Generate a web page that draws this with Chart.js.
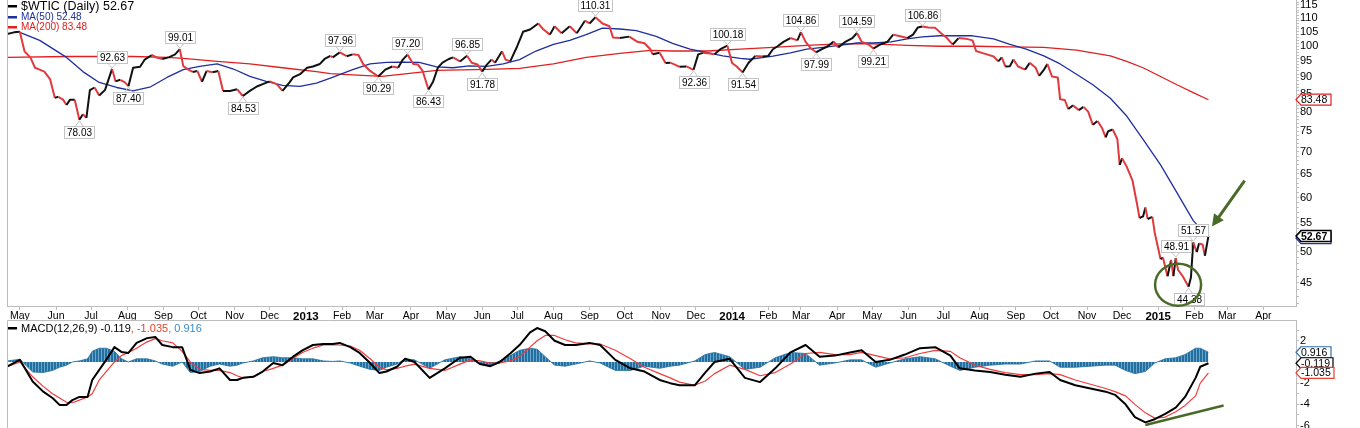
<!DOCTYPE html>
<html>
<head>
<meta charset="utf-8">
<script src="https://cdn.jsdelivr.net/npm/chart.js@4.4.1/dist/chart.umd.min.js"></script>
<style>
  body { margin: 0; background: #fff; }
  #wrap { position: relative; width: 1360px; height: 428px; overflow: hidden; }
  #price { position: absolute; left: 0; top: 0; }
  #macd { position: absolute; left: 0; top: 320px; }
</style>
</head>
<body>
<div id="wrap">
  <canvas id="price" width="1360" height="321"></canvas>
  <canvas id="macd" width="1360" height="108"></canvas>
</div>
<script>
// $WTIC daily close (one row per month)
const priceDates = [
  '2012-04-20','2012-04-26',
  '2012-05-01','2012-05-05','2012-05-10','2012-05-14','2012-05-18','2012-05-22','2012-05-27','2012-05-31',
  '2012-06-03','2012-06-07','2012-06-10','2012-06-13','2012-06-17','2012-06-21','2012-06-24','2012-06-27','2012-06-30',
  '2012-07-04','2012-07-08','2012-07-13','2012-07-19','2012-07-22','2012-07-26','2012-07-30',
  '2012-08-02','2012-08-06','2012-08-12','2012-08-16','2012-08-22','2012-08-26','2012-08-31',
  '2012-09-06','2012-09-11','2012-09-15','2012-09-18','2012-09-22','2012-09-26','2012-09-30',
  '2012-10-04','2012-10-08','2012-10-13','2012-10-18','2012-10-22','2012-10-28',
  '2012-11-03','2012-11-08','2012-11-14','2012-11-20','2012-11-25',
  '2012-12-01','2012-12-07','2012-12-12','2012-12-18','2012-12-21','2012-12-27',
  '2013-01-02','2013-01-07','2013-01-13','2013-01-17','2013-01-22','2013-01-24','2013-01-30',
  '2013-02-05','2013-02-10','2013-02-15','2013-02-19','2013-02-25',
  '2013-03-01','2013-03-04','2013-03-10','2013-03-16','2013-03-21','2013-03-25','2013-03-29',
  '2013-04-03','2013-04-07','2013-04-11','2013-04-16','2013-04-20','2013-04-24','2013-04-28',
  '2013-05-03','2013-05-07','2013-05-13','2013-05-19','2013-05-23','2013-05-28',
  '2013-06-01','2013-06-05','2013-06-09','2013-06-12','2013-06-18','2013-06-21','2013-06-25',
  '2013-07-01','2013-07-06','2013-07-12','2013-07-19','2013-07-23','2013-07-29',
  '2013-08-02','2013-08-08','2013-08-15','2013-08-21','2013-08-28',
  '2013-09-01','2013-09-06','2013-09-12','2013-09-18','2013-09-21','2013-09-27',
  '2013-10-05','2013-10-12','2013-10-18','2013-10-23','2013-10-25','2013-10-31',
  '2013-11-05','2013-11-09','2013-11-13','2013-11-17','2013-11-23','2013-11-29',
  '2013-12-03','2013-12-07','2013-12-13','2013-12-17','2013-12-22','2013-12-28',
  '2014-01-01','2014-01-05','2014-01-10','2014-01-15','2014-01-21','2014-01-27',
  '2014-02-01','2014-02-05','2014-02-09','2014-02-14','2014-02-20','2014-02-26',
  '2014-03-01','2014-03-05','2014-03-09','2014-03-14','2014-03-19','2014-03-24','2014-03-29',
  '2014-04-02','2014-04-08','2014-04-14','2014-04-18','2014-04-22','2014-04-28',
  '2014-05-02','2014-05-08','2014-05-14','2014-05-19','2014-05-25','2014-05-31',
  '2014-06-05','2014-06-09','2014-06-13','2014-06-18','2014-06-24','2014-06-29',
  '2014-07-04','2014-07-09','2014-07-14','2014-07-20','2014-07-26','2014-07-29',
  '2014-08-03','2014-08-08','2014-08-13','2014-08-17','2014-08-20','2014-08-23','2014-08-27','2014-08-30',
  '2014-09-03','2014-09-09','2014-09-13','2014-09-18','2014-09-21','2014-09-25','2014-09-28',
  '2014-10-02','2014-10-07','2014-10-09','2014-10-13','2014-10-16','2014-10-20','2014-10-25','2014-10-29',
  '2014-11-02','2014-11-06','2014-11-10','2014-11-14','2014-11-17','2014-11-19','2014-11-23','2014-11-27','2014-11-29',
  '2014-12-01','2014-12-05','2014-12-10','2014-12-14','2014-12-16','2014-12-19','2014-12-21','2014-12-23','2014-12-27','2014-12-29',
  '2015-01-03','2015-01-05','2015-01-09','2015-01-12','2015-01-14','2015-01-16','2015-01-18','2015-01-22','2015-01-27','2015-01-29','2015-01-31',
  '2015-02-03','2015-02-05','2015-02-08','2015-02-10','2015-02-13'
];
const priceVals = [
  104.2, 104.8,
  105.0, 98.3, 96.3, 93.0, 92.4, 91.8, 89.4, 84.0,
  84.3, 83.5, 82.0, 83.5, 83.5, 78.03, 79.5, 78.5, 86.2,
  87.0, 84.7, 86.3, 92.63, 88.8, 89.3, 88.5,
  87.4, 93.0, 93.3, 95.6, 97.1, 96.3, 95.8,
  96.4, 97.3, 99.01, 93.5, 92.5, 91.7, 92.0,
  88.7, 92.0, 91.6, 92.0, 86.0, 86.0,
  86.5, 84.53, 86.0, 87.3, 88.0,
  88.8, 88.0, 86.0, 88.5, 90.0, 91.0,
  93.0, 93.4, 94.2, 95.8, 96.8, 96.3, 97.96,
  96.7, 97.3, 97.1, 94.2, 92.0,
  91.0, 90.29, 92.4, 93.4, 93.0, 95.6, 97.2,
  94.2, 94.0, 92.0, 86.43, 88.8, 93.0, 94.6,
  95.7, 96.3, 95.0, 96.85, 94.6, 94.0,
  91.78, 94.0, 95.6, 94.6, 98.3, 95.6, 95.0,
  100.0, 105.0, 105.8, 108.0, 106.0, 104.0,
  107.0, 104.5, 107.0, 104.5, 109.0,
  108.0, 110.31, 108.0, 107.0, 103.0, 102.8,
  103.3, 101.5, 101.0, 99.0, 97.3, 97.8,
  94.5, 94.6, 94.0, 93.3, 93.4, 92.36,
  97.3, 97.8, 97.6, 97.3, 99.0, 100.18,
  94.5, 93.4, 91.54, 94.5, 96.8, 96.6,
  96.8, 99.0, 100.0, 101.5, 102.8, 102.0,
  104.86, 101.5, 99.5, 97.99, 99.0, 100.0, 101.6,
  99.6, 101.5, 102.8, 104.59, 101.5, 100.6,
  99.21, 100.6, 101.5, 104.0, 103.4, 102.8,
  104.0, 106.5, 106.86, 106.5, 106.4, 104.5,
  102.8, 100.6, 102.8, 102.6, 102.0, 98.4,
  97.8, 97.2, 96.6, 95.0, 96.3, 93.4, 93.5, 95.6,
  93.4, 92.4, 94.6, 93.0, 90.5, 92.3, 94.2,
  90.3, 90.0, 83.6, 83.4, 80.9, 81.9, 80.6, 81.5,
  80.2, 76.7, 77.7, 75.8, 73.5, 75.0, 75.5, 73.1, 67.0,
  68.5, 66.6, 63.5, 58.5, 56.0, 56.3, 58.0, 55.8, 56.2, 53.3,
  48.7, 49.0, 46.0, 48.6, 46.0, 48.91, 47.0, 46.0, 44.38, 45.8, 51.57,
  49.9, 51.4, 51.2, 49.3, 52.67
];

const ma50Dates = ['2012-05-01','2012-05-18','2012-06-10','2012-06-24','2012-07-08','2012-07-23','2012-08-06','2012-08-21','2012-09-04','2012-09-18',
  '2012-10-02','2012-10-17','2012-10-31','2012-11-14','2012-11-28','2012-12-12','2012-12-27','2013-01-10','2013-01-22','2013-02-10',
  '2013-02-25','2013-03-11','2013-03-25','2013-04-08','2013-04-23','2013-05-07','2013-05-21','2013-06-05','2013-06-19','2013-07-03',
  '2013-07-17','2013-08-01','2013-08-15','2013-08-29','2013-09-12','2013-09-27','2013-10-11','2013-10-28','2013-11-11','2013-11-26',
  '2013-12-11','2013-12-24','2014-01-08','2014-01-16','2014-02-05','2014-02-20','2014-03-06','2014-03-20','2014-04-03','2014-04-18',
  '2014-05-02','2014-05-17','2014-05-31','2014-06-13','2014-06-28','2014-07-26','2014-08-13','2014-08-27','2014-09-10','2014-09-25',
  '2014-10-09','2014-10-23','2014-11-06','2014-11-21','2014-12-05','2014-12-19','2015-01-03','2015-01-17','2015-01-31','2015-02-13'];
const ma50 = [104.8, 102.0, 96.3, 91.8, 88.5, 87.0, 86.0, 87.2, 90.0, 92.4,
  93.4, 94.2, 92.6, 90.3, 88.8, 87.6, 87.3, 88.3, 89.8, 92.4,
  94.2, 94.7, 94.8, 94.7, 93.3, 93.0, 93.6, 93.4, 94.2, 95.6,
  98.4, 100.6, 102.0, 104.0, 106.3, 106.0, 105.4, 103.4, 101.0, 99.0,
  97.9, 96.8, 96.0, 95.7, 96.7, 97.8, 99.0, 99.6, 100.3, 101.1,
  101.1, 101.5, 102.5, 103.2, 103.6, 103.6, 102.5, 100.6, 99.0, 96.8,
  94.2, 91.0, 87.8, 83.9, 79.0, 73.0, 67.0, 61.0, 55.5, 52.48];

const ma200Dates = ['2012-04-20','2012-06-10','2012-08-06','2012-09-04','2012-09-18','2012-10-17','2012-11-14','2012-12-12','2013-01-10','2013-01-22',
  '2013-02-10','2013-03-07','2013-03-25','2013-04-23','2013-06-05','2013-07-03','2013-08-01','2013-08-29','2013-09-27','2013-10-23',
  '2013-11-11','2013-12-11','2014-01-08','2014-02-05','2014-03-06','2014-04-03','2014-05-02','2014-05-31','2014-06-28','2014-07-29',
  '2014-08-27','2014-09-25','2014-10-23','2014-11-21','2014-12-05','2014-12-19','2015-01-03','2015-01-17','2015-01-31','2015-02-13'];
const ma200 = [96.3, 96.6, 96.6, 96.3, 96.0, 95.0, 94.2, 93.0, 91.8, 91.2,
  90.8, 90.3, 91.0, 92.2, 92.5, 92.8, 94.2, 96.3, 97.6, 98.6,
  98.4, 98.4, 99.0, 99.6, 100.3, 100.8, 100.8, 100.3, 100.0, 100.0,
  99.8, 99.6, 98.7, 96.8, 95.0, 93.0, 90.3, 87.8, 85.5, 83.48];

// MACD(12,26,9) panel
const macdDates = [
  '2012-04-20','2012-05-01','2012-05-12','2012-05-21','2012-05-29','2012-06-04','2012-06-10','2012-06-15','2012-06-21','2012-06-28',
  '2012-07-02','2012-07-08','2012-07-14','2012-07-21','2012-07-27','2012-08-02','2012-08-09','2012-08-18','2012-08-25','2012-08-31',
  '2012-09-09','2012-09-17','2012-09-24','2012-10-02','2012-10-11','2012-10-19','2012-10-28','2012-11-03','2012-11-08','2012-11-17',
  '2012-11-25','2012-12-04','2012-12-12','2012-12-21','2012-12-29','2013-01-07','2013-01-16','2013-01-24','2013-01-30','2013-02-08',
  '2013-02-16','2013-02-25','2013-03-05','2013-03-11','2013-03-20','2013-03-27','2013-04-04','2013-04-17','2013-04-30','2013-05-13',
  '2013-05-22','2013-05-30','2013-06-08','2013-06-16','2013-06-25','2013-07-03','2013-07-12','2013-07-18','2013-07-25','2013-08-02',
  '2013-08-11','2013-08-20','2013-09-01','2013-09-10','2013-09-23','2013-10-06','2013-10-18','2013-10-31','2013-11-09','2013-11-17',
  '2013-11-30','2013-12-09','2013-12-17','2013-12-30','2014-01-12','2014-01-25','2014-02-07','2014-02-20','2014-03-05','2014-03-17',
  '2014-03-30','2014-04-12','2014-04-22','2014-05-04','2014-05-16','2014-05-29','2014-06-11','2014-06-24','2014-07-07','2014-07-15',
  '2014-07-28','2014-08-10','2014-08-23','2014-09-05','2014-09-18','2014-09-30','2014-10-09','2014-10-22','2014-11-04','2014-11-17',
  '2014-11-25','2014-12-04','2014-12-12','2014-12-21','2014-12-29','2015-01-07','2015-01-16','2015-01-24','2015-02-02','2015-02-06','2015-02-13'
];
const macdLine = [
  -0.45, 0.2, -1.85, -2.8, -3.4, -4.05, -4.05, -3.6, -3.3, -3.3,
  -1.7, -0.75, 0.2, 1.4, 0.95, 0.85, 1.8, 2.25, 2.36, 1.6,
  1.4, 1.4, -0.75, -1.05, -0.9, -0.6, -1.7, -1.7, -1.5, -1.4,
  -0.9, -0.1, -0.3, 0.5, 1.1, 1.6, 1.7, 1.7, 1.8, 1.4,
  0.85, -0.1, -1.05, -0.9, -0.45, 0.3, 0.0, -1.5, -0.6, 0.4,
  0.5, -0.2, -0.4, 0.0, 0.8, 1.6, 2.8, 3.2, 2.9, 2.0,
  1.6, 1.6, 1.8, 1.6, 0.2, -0.6, -0.9, -1.7, -2.0, -2.2,
  -2.2, -1.0, 0.0, 0.3, -1.5, -1.9, -0.6, 0.9, 1.6, 0.5,
  0.6, 0.9, 1.1, 0.0, 0.2, 0.7, 1.3, 1.4, 0.6, -0.6,
  -0.8, -0.95, -1.2, -1.4, -1.1, -0.95, -1.7, -2.2, -2.5, -2.8,
  -3.1, -4.0, -5.2, -5.7, -5.4, -4.9, -4.3, -3.3, -1.5, -0.45, -0.119
];
const signalLine = [
  -0.45, 0.0, -1.4, -2.3, -3.0, -3.4, -3.8, -3.85, -3.6, -3.3,
  -3.0, -1.7, -0.9, 0.0, 0.6, 0.9, 1.3, 1.9, 2.2, 2.0,
  1.8, 1.0, 0.0, -0.7, -0.8, -0.8, -1.0, -1.3, -1.5, -1.4,
  -0.9, -0.6, -0.3, 0.35, 0.9, 1.3, 1.6, 1.6, 1.6, 1.5,
  1.1, 0.3, -0.5, -0.75, -0.6, -0.4, -0.2, -0.6, -0.8, -0.2,
  0.2, 0.1, -0.1, -0.1, 0.1, 0.5, 1.4, 2.0, 2.5, 2.5,
  2.1, 1.8, 1.7, 1.7, 1.1, 0.3, -0.5, -1.1, -1.5, -1.9,
  -2.2, -1.8, -1.1, -0.3, -0.7, -1.3, -1.0, -0.2, 0.8, 0.9,
  0.7, 0.7, 0.9, 0.6, 0.3, 0.4, 0.8, 1.1, 1.0, 0.4,
  -0.3, -0.7, -1.0, -1.2, -1.2, -1.1, -1.2, -1.7, -2.1, -2.5,
  -2.8, -3.2, -4.0, -4.8, -5.3, -5.2, -4.7, -4.1, -3.2, -2.0, -1.035
];
const histVals = [
  0.1, 0.25, -0.95, -1.0, -0.8, -0.5, -0.3, 0.0, 0.1, 0.3,
  1.0, 1.3, 1.3, 1.0, 0.3, 0.0, 0.3, 0.3, 0.1, -0.2,
  -0.4, 0.0, -1.0, -0.9, -0.4, -0.2, -0.4, -0.3, -0.1, 0.1,
  0.4, 0.5, 0.4, 0.4, 0.3, 0.3, 0.1, 0.05, 0.1, -0.1,
  -0.4, -0.7, -0.8, -0.5, -0.2, 0.3, 0.2, -0.6, 0.2, 0.5,
  0.3, -0.2, -0.3, 0.1, 0.6, 1.1, 1.3, 1.2, 0.5, -0.3,
  -0.4, -0.2, 0.1, -0.1, -0.8, -0.8, -0.4, -0.6, -0.4, -0.3,
  0.1, 0.7, 0.9, 0.5, -0.7, -0.5, 0.4, 0.9, 0.8, -0.3,
  -0.1, 0.2, 0.2, -0.5, -0.1, 0.3, 0.5, 0.3, -0.4, -0.8,
  -0.5, -0.3, -0.2, -0.2, 0.1, 0.1, -0.5, -0.5, -0.4, -0.3,
  -0.3, -0.8, -1.1, -0.9, -0.1, 0.3, 0.4, 0.7, 1.3, 1.3, 0.916
];

// swing labels on the price line
const markDates = ['2012-06-21','2012-07-19','2012-08-02','2012-09-15','2012-11-08','2013-01-30','2013-03-04','2013-03-29',
  '2013-04-16','2013-05-19','2013-06-01','2013-09-06','2013-11-29','2013-12-28','2014-01-10','2014-03-01','2014-03-14',
  '2014-04-18','2014-05-02','2014-06-13','2015-01-16','2015-01-27','2015-01-31'];
const markVals = [78.03, 92.63, 87.40, 99.01, 84.53, 97.96, 90.29, 97.20, 86.43, 96.85, 91.78, 110.31, 92.36, 100.18,
  91.54, 104.86, 97.99, 104.59, 99.21, 106.86, 48.91, 44.38, 51.57];
const markSide = ['low','high','low','high','low','high','low','high','low','high','low','high','low','high',
  'low','high','low','high','low','high','high','low','high'];

// hand drawn notes (in data units)
const circleAt = ['2015-01-18', 44.7];
const arrowFrom = ['2015-03-16', 63.5];
const arrowTo = ['2015-02-16', 54.4];
const divFrom = ['2014-12-21', -5.94];
const divTo = ['2015-02-26', -4.1];

const monthNames = ['Jan','Feb','Mar','Apr','May','Jun','Jul','Aug','Sep','Oct','Nov','Dec'];
const xMin = Date.UTC(2012, 3, 20);
const xMax = Date.UTC(2015, 3, 29);

const FONT = 'Liberation Sans';
const AXIS = '#bdbdbd';
const GREEN = '#4a6b28';
const NAVY = '#1f2f9f';
const RED = '#e02020';

Chart.defaults.font.family = FONT;

const toMs = d => Date.parse(d + 'T00:00:00Z');
const pts = (dates, vals) => dates.map((d, i) => ({ x: toMs(d), y: vals[i] }));
const last = a => a[a.length - 1];

function monthTicks() {
  const t = [];
  for (let k = 0; k < 36; k++) {
    t.push({ value: Date.UTC(2012 + Math.floor((4 + k) / 12), (4 + k) % 12, 1) });
  }
  return t;
}

function tag(ctx, x0, py, txt, stroke, lw, bold) {
  ctx.font = (bold ? 'bold ' : '') + '10.5px "' + FONT + '"';
  const w = Math.ceil(ctx.measureText(txt).width) + 8, h = 11;
  ctx.beginPath();
  ctx.moveTo(x0, py);
  ctx.lineTo(x0 + 5, py - h / 2);
  ctx.lineTo(x0 + w, py - h / 2);
  ctx.lineTo(x0 + w, py + h / 2);
  ctx.lineTo(x0 + 5, py + h / 2);
  ctx.closePath();
  ctx.fillStyle = '#fff';
  ctx.fill();
  ctx.lineWidth = lw;
  ctx.strokeStyle = stroke;
  ctx.stroke();
  ctx.fillStyle = '#000';
  ctx.textAlign = 'left';
  ctx.textBaseline = 'middle';
  ctx.fillText(txt, x0 + 5, py + 0.5);
}

function legendRow(ctx, yMid, color, text, size) {
  ctx.fillStyle = color;
  ctx.fillRect(8, Math.round(yMid) - 1, 9, 2.5);
  ctx.font = size + 'px "' + FONT + '"';
  ctx.textAlign = 'left';
  ctx.textBaseline = 'middle';
  ctx.fillText(text, 21, yMid + 0.5);
}

const priceOverlay = {
  id: 'priceOverlay',
  afterDraw(chart) {
    const { ctx, chartArea: a } = chart;
    const x = chart.scales.x, y = chart.scales.y;
    ctx.save();

    ctx.strokeStyle = AXIS;
    ctx.lineWidth = 1;
    ctx.beginPath();
    ctx.moveTo(a.left + 0.5, a.top);
    ctx.lineTo(a.left + 0.5, a.bottom);
    ctx.stroke();

    legendRow(ctx, 6, '#000', '$WTIC (Daily) ' + last(priceVals).toFixed(2), 12.5);
    legendRow(ctx, 16.5, NAVY, 'MA(50) ' + last(ma50).toFixed(2), 10);
    legendRow(ctx, 27, RED, 'MA(200) ' + last(ma200).toFixed(2), 10);

    // swing labels
    ctx.font = '10px "' + FONT + '"';
    markDates.forEach((d, i) => {
      const px = x.getPixelForValue(toMs(d));
      const py = y.getPixelForValue(markVals[i]);
      const txt = markVals[i].toFixed(2);
      const w = Math.ceil(ctx.measureText(txt).width) + 4, h = 12;
      const high = markSide[i] === 'high';
      const by = Math.round(high ? py - 6 - h : py + 6) + 0.5;
      const bx = Math.round(px - w / 2) + 0.5;
      const edge = high ? by + h : by;
      const tip = high ? py - 1 : py + 1;
      ctx.strokeStyle = '#c4c4c4';
      ctx.lineWidth = 1;
      ctx.beginPath();
      ctx.moveTo(px - 4, edge);
      ctx.lineTo(px, tip);
      ctx.lineTo(px + 4, edge);
      ctx.stroke();
      ctx.fillStyle = '#fff';
      ctx.fillRect(bx, by, w, h);
      ctx.strokeRect(bx, by, w, h);
      ctx.fillStyle = '#000';
      ctx.textAlign = 'center';
      ctx.textBaseline = 'middle';
      ctx.fillText(txt, bx + w / 2, by + h / 2 + 0.5);
    });

    // circle round the low
    ctx.strokeStyle = GREEN;
    ctx.lineWidth = 2.5;
    ctx.beginPath();
    ctx.ellipse(x.getPixelForValue(toMs(circleAt[0])), y.getPixelForValue(circleAt[1]), 23, 21, 0, 0, Math.PI * 2);
    ctx.stroke();

    // arrow
    const x1 = x.getPixelForValue(toMs(arrowFrom[0])), y1 = y.getPixelForValue(arrowFrom[1]);
    const x2 = x.getPixelForValue(toMs(arrowTo[0])), y2 = y.getPixelForValue(arrowTo[1]);
    const ang = Math.atan2(y2 - y1, x2 - x1);
    ctx.lineWidth = 3;
    ctx.beginPath();
    ctx.moveTo(x1, y1);
    ctx.lineTo(x2 - 8 * Math.cos(ang), y2 - 8 * Math.sin(ang));
    ctx.stroke();
    ctx.fillStyle = GREEN;
    ctx.beginPath();
    ctx.moveTo(x2, y2);
    ctx.lineTo(x2 - 12 * Math.cos(ang) + 6 * Math.sin(ang), y2 - 12 * Math.sin(ang) - 6 * Math.cos(ang));
    ctx.lineTo(x2 - 12 * Math.cos(ang) - 6 * Math.sin(ang), y2 - 12 * Math.sin(ang) + 6 * Math.cos(ang));
    ctx.closePath();
    ctx.fill();

    // last values on the axis
    tag(ctx, a.right, y.getPixelForValue(last(ma200)), last(ma200).toFixed(2), RED, 1.2, false);
    tag(ctx, a.right, y.getPixelForValue(last(ma50)) + 1, last(ma50).toFixed(2), NAVY, 1.2, false);
    tag(ctx, a.right, y.getPixelForValue(last(priceVals)), last(priceVals).toFixed(2), '#000', 1.5, true);

    ctx.restore();
  }
};

const macdOverlay = {
  id: 'macdOverlay',
  afterDraw(chart) {
    const { ctx, chartArea: a } = chart;
    const x = chart.scales.x, y = chart.scales.y;
    ctx.save();

    ctx.strokeStyle = AXIS;
    ctx.lineWidth = 1;
    ctx.beginPath();
    ctx.moveTo(a.left + 0.5, a.bottom);
    ctx.lineTo(a.left + 0.5, 0.5);
    ctx.lineTo(a.right, 0.5);
    ctx.stroke();

    // legend
    ctx.fillStyle = '#000';
    ctx.fillRect(8, 7, 9, 2.5);
    ctx.font = '11px "' + FONT + '"';
    ctx.textAlign = 'left';
    ctx.textBaseline = 'middle';
    const parts = [
      ['MACD(12,26,9) ' + last(macdLine).toFixed(3), '#000'],
      [', ' + last(signalLine).toFixed(3), '#e8402a'],
      [', ' + last(histVals).toFixed(3), '#3a8cc4']
    ];
    let tx = 21;
    parts.forEach(p => {
      ctx.fillStyle = p[1];
      ctx.fillText(p[0], tx, 8.5);
      tx += ctx.measureText(p[0]).width;
    });

    // divergence line
    ctx.strokeStyle = GREEN;
    ctx.lineWidth = 2.5;
    ctx.beginPath();
    ctx.moveTo(x.getPixelForValue(toMs(divFrom[0])), y.getPixelForValue(divFrom[1]));
    ctx.lineTo(x.getPixelForValue(toMs(divTo[0])), y.getPixelForValue(divTo[1]));
    ctx.stroke();

    tag(ctx, a.right, y.getPixelForValue(last(histVals)), last(histVals).toFixed(3), '#2f6fb0', 1.2, false);
    tag(ctx, a.right, y.getPixelForValue(last(macdLine)), last(macdLine).toFixed(3), '#000', 1.2, false);
    tag(ctx, a.right, y.getPixelForValue(last(signalLine)), last(signalLine).toFixed(3), '#e84030', 1.2, false);

    ctx.restore();
  }
};

const common = {
  responsive: false,
  animation: false,
  events: [],
  plugins: { legend: { display: false }, tooltip: { enabled: false } },
  elements: { point: { radius: 0 }, line: { tension: 0, borderJoinStyle: 'round' } }
};

function isJan(c) {
  return !!(c && c.tick && new Date(c.tick.value).getUTCMonth() === 0);
}

new Chart(document.getElementById('price'), {
  type: 'line',
  data: {
    datasets: [
      {
        data: pts(priceDates, priceVals),
        borderWidth: 2,
        borderColor: '#111',
        segment: { borderColor: c => c.p1.parsed.y >= c.p0.parsed.y ? '#111' : '#e03a3e' }
      },
      { data: pts(ma50Dates, ma50), borderColor: NAVY, borderWidth: 1.3 },
      { data: pts(ma200Dates, ma200), borderColor: RED, borderWidth: 1.3 }
    ]
  },
  options: {
    ...common,
    layout: { padding: { left: 7, right: 0, top: 0, bottom: 0 } },
    scales: {
      x: {
        type: 'linear', min: xMin, max: xMax,
        afterBuildTicks: s => { s.ticks = monthTicks(); },
        afterFit: s => { s.height = 15; s.paddingLeft = 0; s.paddingRight = 0; },
        grid: { drawOnChartArea: false, tickLength: 4, color: AXIS },
        border: { color: AXIS },
        ticks: {
          autoSkip: false, maxRotation: 0, padding: 0, color: '#000',
          font: c => isJan(c)
            ? { family: FONT, size: 11.5, weight: 'bold' }
            : { family: FONT, size: 10.5, weight: 'normal' },
          callback: v => {
            const d = new Date(v);
            return d.getUTCMonth() === 0 ? String(d.getUTCFullYear()) : monthNames[d.getUTCMonth()];
          }
        }
      },
      y: {
        type: 'logarithmic', position: 'right', min: 41.6, max: 116.9,
        afterBuildTicks: s => { s.ticks = []; for (let v = 42; v <= 116; v++) s.ticks.push({ value: v }); },
        afterFit: s => { s.width = 64; s.paddingTop = 0; s.paddingBottom = 0; },
        grid: { drawOnChartArea: false, tickLength: 3, color: AXIS },
        border: { color: AXIS },
        ticks: {
          autoSkip: false, padding: 1, color: '#000', font: { family: FONT, size: 11 },
          callback: v => v % 5 === 0 ? String(v) : ''
        }
      }
    }
  },
  plugins: [priceOverlay]
});

const macdCanvas = document.getElementById('macd');
const stripe = document.createElement('canvas');
stripe.width = 3; stripe.height = 1;
const sctx = stripe.getContext('2d');
sctx.fillStyle = '#2270a0'; sctx.fillRect(0, 0, 2, 1);
sctx.fillStyle = '#6aa6cc'; sctx.fillRect(2, 0, 1, 1);
const histFill = macdCanvas.getContext('2d').createPattern(stripe, 'repeat');

new Chart(macdCanvas, {
  type: 'line',
  data: {
    datasets: [
      { data: pts(macdDates, macdLine), borderColor: '#000', borderWidth: 2 },
      { data: pts(macdDates, signalLine), borderColor: '#f03c3c', borderWidth: 1.2 },
      { data: pts(macdDates, histVals), borderColor: '#2270a0', borderWidth: 0.8, backgroundColor: histFill, fill: 'origin' }
    ]
  },
  options: {
    ...common,
    layout: { padding: { left: 7, right: 0, top: 0, bottom: 0 } },
    scales: {
      x: { type: 'linear', min: xMin, max: xMax, display: false },
      y: {
        position: 'right', min: -6.23, max: 3.96,
        afterBuildTicks: s => { s.ticks = []; for (let v = -6; v <= 3; v++) s.ticks.push({ value: v }); },
        afterFit: s => { s.width = 64; s.paddingTop = 0; s.paddingBottom = 0; },
        grid: { drawOnChartArea: false, tickLength: 3, color: AXIS },
        border: { color: AXIS },
        ticks: {
          autoSkip: false, padding: 1, color: '#000', font: { family: FONT, size: 11 },
          callback: v => v % 2 === 0 ? String(v) : ''
        }
      }
    }
  },
  plugins: [macdOverlay]
});
</script>
</body>
</html>
